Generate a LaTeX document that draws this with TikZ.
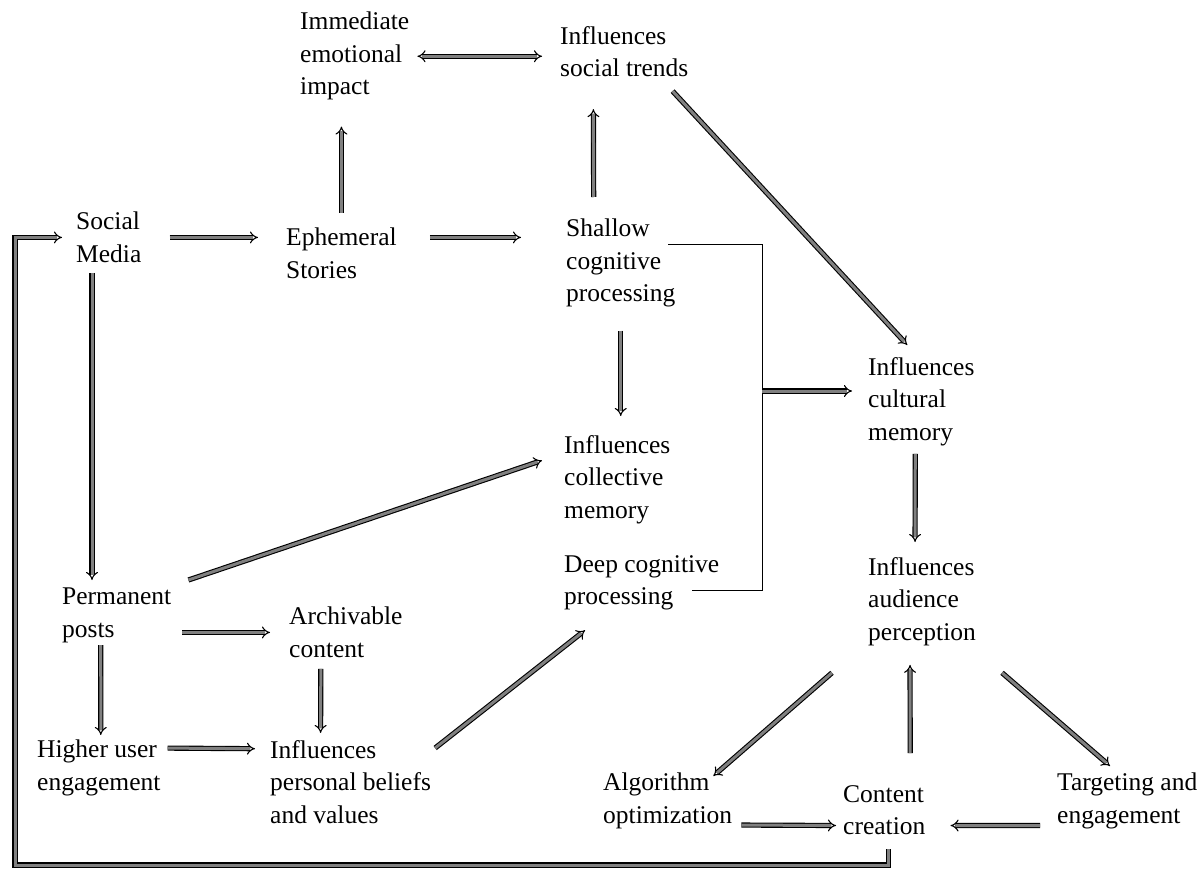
\documentclass[tikz,border=0pt]{standalone}
\usepackage{fontspec}
\setmainfont{Liberation Serif}
\usetikzlibrary{arrows.meta}
\tikzset{
    lbl/.style={anchor=north west, inner sep=0pt, align=left, font=\fontsize{25.5}{32.5}\selectfont},
    dbl/.style={line width=1.1pt, double=gray, double distance=3pt, -{Implies[scale=1.5]}},
}
\begin{document}
\begin{tikzpicture}[x=1pt,y=-1pt]
    \useasboundingbox[fill=white] (0,0) rectangle (1204,877);
    %% top row
    \node[lbl] (immediate) at (300,12) {Immediate\\emotional\\impact};
    \node[lbl] (soctrend) at (560,26) {Influences\\social trends};
    %% stories
    \node[lbl] (social) at (76,212) {Social\\Media};
    \node[lbl] (ephem) at (286,228) {Ephemeral\\Stories};
    \node[lbl] (shallow) at (566,219) {Shallow\\cognitive\\processing};
    \node[lbl] (cultural) at (868,357) {Influences\\cultural\\memory};
    \node[lbl] (collective) at (564,435) {Influences\\collective\\memory};
    \node[lbl] (deep) at (564,555) {Deep cognitive\\processing};
    \node[lbl] (audience) at (868,557) {Influences\\audience\\perception};
    %% posts
    \node[lbl] (permanent) at (62,588) {Permanent\\posts};
    \node[lbl] (archive) at (289,607) {Archivable\\content};
    \node[lbl] (higher) at (37,740) {Higher user\\engagement};
    \node[lbl] (personal) at (270,740) {Influences\\personal beliefs\\and values};
    %% feedback
    \node[lbl] (algo) at (603,773) {Algorithm\\optimization};
    \node[lbl] (content) at (843,785) {Content\\creation};
    \node[lbl] (target) at (1057,773) {Targeting and\\engagement};
    \coordinate (join) at (762,391);
    \coordinate (corner) at (15,865);
    %% arrows
    \draw[dbl, shorten <=28pt, shorten >=28pt] (social.east) -- (social.east -| ephem.west);
    \draw[dbl, shorten <=33pt, shorten >=45pt] (social.east -| ephem.east) -- (social.east -| shallow.west);
    \draw[dbl, shorten <=15pt, shorten >=26pt] (ephem.north) -- (ephem.north |- immediate.south);
    \draw[dbl, {Implies[scale=1.5]}-{Implies[scale=1.5]}, shorten <=8pt, shorten >=18pt] (immediate.east) -- (immediate.east -| soctrend.west);
    \draw[dbl, shorten <=22pt, shorten >=32pt] ([xshift=-27pt]shallow.north) -- ([xshift=-31pt]soctrend.south);
    \draw[dbl] ([xshift=-16pt,yshift=-14pt]soctrend.south east) -- ([xshift=-14pt,yshift=12pt]cultural.north);
    \draw[dbl, shorten <=23pt, shorten >=19pt] (shallow.south) -- (shallow.south |- collective.north);
    %% bracket
    \draw[line width=0.8pt] ([xshift=-7pt,yshift=19pt]shallow.east) -| (join) |- ([xshift=-27pt,yshift=-7.5pt]deep.east);
    \draw[dbl, shorten >=16pt] (join) -- (join -| cultural.west);
    \draw[dbl, shorten <=8pt, shorten >=15pt] ([xshift=-6pt]cultural.south) -- ([xshift=-7pt]audience.north);
    %% posts side
    \draw[dbl, shorten <=10pt, shorten >=8pt] ([xshift=16pt]social.south west) -- ([xshift=30pt]permanent.north west);
    \draw[dbl] ([xshift=17pt,yshift=8pt]permanent.north east) -- ([xshift=-22pt,yshift=19pt]collective.west);
    \draw[dbl, shorten <=11pt, shorten >=19pt] (archive.west -| permanent.east) -- (archive.west);
    \draw[dbl, shorten <=2pt, shorten >=5pt] ([xshift=-16pt]permanent.south) -- ([xshift=2pt]higher.north);
    \draw[dbl, shorten <=11pt, shorten >=7pt] ([xshift=-25pt]archive.south) -- ([xshift=-30pt]personal.north);
    \draw[dbl, shorten <=7pt, shorten >=15pt] ([yshift=20pt]higher.east) -- ([yshift=33pt]personal.west);
    \draw[dbl] ([xshift=4pt,yshift=-8pt]personal.north east) -- ([xshift=21pt,yshift=-20pt]deep.south west);
    %% feedback loop
    \draw[dbl] ([xshift=-36pt,yshift=-27pt]audience.south west) -- ([xshift=-19pt,yshift=-3pt]algo.north east);
    \draw[dbl, shorten <=32pt, shorten >=19pt] ([xshift=26pt]content.north) -- ([xshift=-12pt]audience.south);
    \draw[dbl] ([xshift=26pt,yshift=-27pt]audience.south east) -- ([xshift=53pt,yshift=7pt]target.north west);
    \draw[dbl, shorten <=9pt, shorten >=7pt] ([yshift=-24pt]algo.east) -- ([yshift=-15.5pt]content.west);
    \draw[dbl, shorten <=17pt, shorten >=25pt] ([yshift=-24.5pt]target.west) -- ([yshift=-15.5pt]content.east);
    \draw[dbl, shorten <=14pt, shorten >=14pt] ([xshift=4pt]content.south) |- (corner) |- (social.west);
\end{tikzpicture}
\end{document}
